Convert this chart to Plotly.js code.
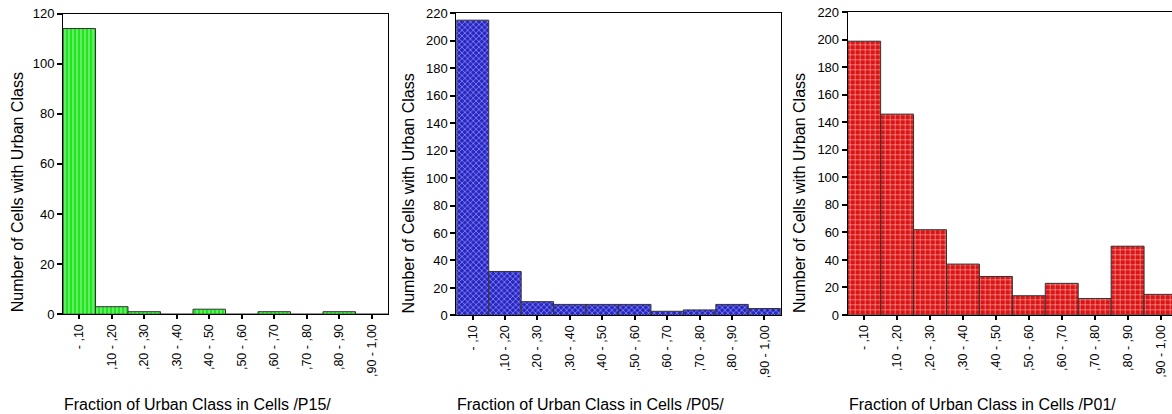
<!DOCTYPE html>
<html>
<head>
<meta charset="utf-8">
<script src="https://cdn.plot.ly/plotly-3.0.1.min.js"></script>
<style>
html, body { margin: 0; padding: 0; overflow: hidden; background: #fff; width: 1172px; height: 414px; }
#chart { width: 1190px; height: 414px; }
</style>
</head>
<body>
<div id="chart"></div>
<script>
// ---- data ----
const categories = [" - ,10", ",10 - ,20", ",20 - ,30", ",30 - ,40", ",40 - ,50",
                    ",50 - ,60", ",60 - ,70", ",70 - ,80", ",80 - ,90", ",90 - 1,00"];
const p15Counts = [114, 3, 1, 0, 2, 0, 1, 0, 1, 0];
const p05Counts = [215, 32, 10, 8, 8, 8, 3, 4, 8, 5];
const p01Counts = [199, 146, 62, 37, 28, 14, 23, 12, 50, 15];
const yTitle = "Number of Cells with Urban Class";
const xTitles = ["Fraction of Urban Class in Cells /P15/",
                 "Fraction of Urban Class in Cells /P05/",
                 "Fraction of Urban Class in Cells /P01/"];
const yMax = [120, 220, 220];

// ---- layout helpers ----
const W = 1190, H = 414;
const fx = px => px / W;
const fy = py => 1 - py / H;

const panels = [
  { left: 63, right: 388, top: 13.5, bottom: 314.2, yt: 17,
    color: "#1fe61f", shape: "|", size: 4, solidity: 0.15, data: p15Counts },
  { left: 456.3, right: 780.7, top: 13.3, bottom: 315.4, yt: 408,
    color: "#2626c8", shape: "x", size: 4, solidity: 0.18, data: p05Counts },
  { left: 847.7, right: 1177, top: 12.3, bottom: 315, yt: 799,
    color: "#dc1414", shape: "+", size: 5, solidity: 0.15, data: p01Counts }
];

const traces = [];
const layout = {
  width: W, height: H,
  margin: { l: 0, r: 0, t: 0, b: 0 },
  paper_bgcolor: "#ffffff",
  plot_bgcolor: "#ffffff",
  showlegend: false,
  bargap: 0,
  font: { family: "Liberation Sans, Arial, sans-serif", color: "#000" },
  annotations: []
};

panels.forEach((p, i) => {
  const n = i === 0 ? "" : String(i + 1);
  traces.push({
    type: "bar",
    x: categories,
    y: p.data,
    xaxis: "x" + n,
    yaxis: "y" + n,
    marker: {
      color: p.color,
      line: { color: "#333333", width: 1 },
      pattern: { shape: p.shape, fgcolor: "#ffffff", bgcolor: p.color,
                 fillmode: "replace", size: p.size, solidity: p.solidity }
    },
    hoverinfo: "x+y"
  });
  layout["xaxis" + n] = {
    domain: [fx(p.left), fx(p.right)],
    anchor: "y" + n,
    type: "category",
    range: [-0.5, 9.5],
    tickangle: -90,
    ticks: "outside", ticklen: 4, tickwidth: 2, tickcolor: "#000",
    tickfont: { size: 12.5, color: "#000" },
    showline: true, linecolor: "#000", linewidth: 1, mirror: true,
    showgrid: false, zeroline: false, fixedrange: true
  };
  layout["yaxis" + n] = {
    domain: [fy(p.bottom), fy(p.top)],
    anchor: "x" + n,
    range: [0, yMax[i]],
    dtick: 20,
    ticks: "outside", ticklen: 5, tickwidth: 2, tickcolor: "#000",
    tickfont: { size: 13, color: "#000" },
    showline: true, linecolor: "#000", linewidth: 1, mirror: true,
    showgrid: false, zeroline: false, fixedrange: true
  };
  layout.annotations.push({
    text: yTitle, textangle: -90,
    xref: "paper", yref: "paper",
    x: fx(p.yt), y: fy(p.bottom),
    xanchor: "center", yanchor: "bottom",
    showarrow: false,
    font: { size: 16, color: "#000" }
  });
  layout.annotations.push({
    text: xTitles[i],
    xref: "paper", yref: "paper",
    x: fx(p.left - 1), y: fy(404),
    xanchor: "left", yanchor: "middle",
    showarrow: false,
    font: { size: 16, color: "#000" }
  });
});

Plotly.newPlot("chart", traces, layout, { displayModeBar: false, staticPlot: true });
</script>
</body>
</html>
